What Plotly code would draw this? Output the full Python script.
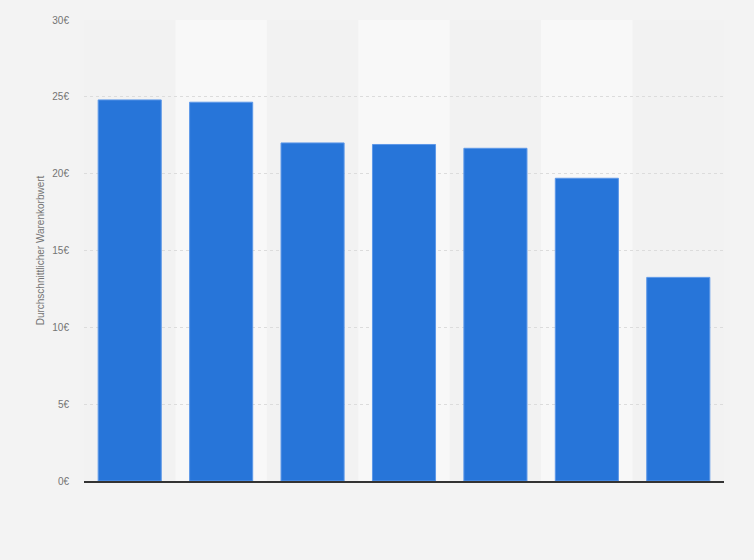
import plotly.graph_objects as go

# Data (average basket value in EUR)
categories = ["A", "B", "C", "D", "E", "F", "G"]
values = [24.8, 24.65, 22.0, 21.9, 21.65, 19.7, 13.25]
y_ticks = [0, 5, 10, 15, 20, 25, 30]
y_tick_labels = [f"{v}€" for v in y_ticks]

fig = go.Figure()

fig.add_trace(go.Bar(
    x=categories,
    y=values,
    marker_color="#2775d9",
    marker_line_color="#5d98e8",
    marker_line_width=1,
    width=0.69,
    hoverinfo="y",
))

# lighter background stripes on every second category
for i in range(1, len(categories), 2):
    fig.add_shape(type="rect", xref="x", yref="paper",
                  x0=i - 0.5, x1=i + 0.5, y0=0, y1=1,
                  fillcolor="#f8f8f8", line_width=0, layer="below")

fig.update_layout(
    width=754,
    height=560,
    margin=dict(l=84, r=30, t=20, b=79),
    paper_bgcolor="#f3f3f3",
    plot_bgcolor="#f2f2f2",
    font_family="Liberation Sans",
    font_color="#666666",
    showlegend=False,
    bargap=0.31,
)

fig.update_xaxes(
    showticklabels=False,
    showgrid=False,
    range=[-0.5, len(categories) - 0.5],
    showline=True,
    linecolor="#333333",
    linewidth=1.5,
    ticks="",
)

fig.update_yaxes(
    range=[0, 30],
    tickvals=y_ticks,
    ticktext=y_tick_labels,
    tickfont=dict(size=10, color="#737373"),
    showgrid=True,
    gridcolor="#dcdcdc",
    griddash="dot",
    gridwidth=1,
    zeroline=False,
    title=dict(text="Durchschnittlicher Warenkorbwert",
               font=dict(size=10, color="#737373"), standoff=5),
    ticklabelstandoff=14,
)

# remove the default page margin so the chart fills the window
fig.write_html("out.html", config={"displayModeBar": False},
               post_script="document.body.style.margin='0';")
